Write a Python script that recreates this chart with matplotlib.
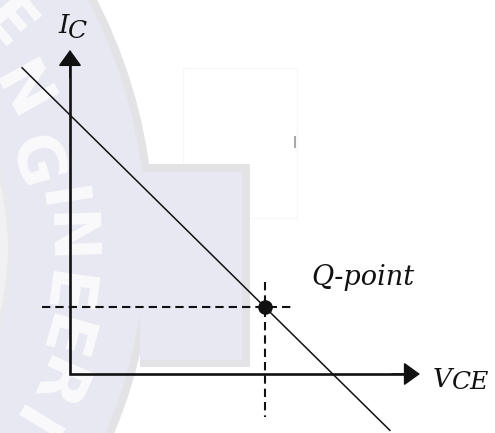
import numpy as np
import matplotlib
matplotlib.use("Agg")
import matplotlib.pyplot as plt
from matplotlib.patches import Circle, Rectangle

# ---------------- diagram data (arbitrary units) ----------------
vce_axis_len = 10.0          # length of V_CE axis
ic_axis_len = 9.26           # length of I_C axis
load_vce = [-1.37, 9.14]     # load line end points (V_CE)
load_ic = [8.75, -1.61]      # load line end points (I_C)
q_vce = 5.57                 # Q-point
q_ic = 1.92
h_dash_vce = [-0.80, 6.34]   # horizontal dashed guide extent
v_dash_ic = [2.63, -1.23]    # vertical dashed guide extent
q_label = "Q-point"
x_label = ("V", "CE")
y_label = ("I", "C")

# watermark letters (background decoration, pixel positions)
wm_letters = ["E", "N", "G", "I", "N", "E", "E", "R", "I"]
wm_rows = [25, 93, 163, 200, 238, 293, 337, 383, 422]
wm_cols = [6, 20, 33, 58, 66, 62, 60, 52, 28]

W, H, DPI = 495, 433, 100
fig = plt.figure(figsize=(W / DPI, H / DPI), dpi=DPI)
fig.patch.set_facecolor("white")

# ---------------- background watermark (pixel space) ----------------
bg = fig.add_axes([0, 0, 1, 1])
bg.set_xlim(0, W)
bg.set_ylim(H, 0)
bg.axis("off")
cx, cy = -360, 235
band = "#e3e3e6"
lav = "#e8e8f2"
bg.add_patch(Rectangle((183, 68), 114, 150, facecolor="white", edgecolor="#f7f7f7", lw=1))
bg.add_patch(Circle((cx, cy), 514, facecolor=band, edgecolor="none"))
bg.add_patch(Rectangle((140, 164), 110, 203, facecolor=band, edgecolor="none"))
bg.add_patch(Circle((cx, cy), 506, facecolor=lav, edgecolor="none"))
bg.add_patch(Rectangle((140, 172), 102, 188, facecolor=lav, edgecolor="none"))
tcx, tcy = -258, 248
bg.add_patch(Circle((tcx, tcy), 268, facecolor="#f1f1f4", edgecolor="#e9e9ec", lw=3))
bg.plot([295, 295], [137, 147], color="#a8a8a8", lw=1.5)

for ch, xc, yc in zip(wm_letters, wm_cols, wm_rows):
    phi = np.degrees(np.arctan2(tcy - yc, xc - tcx))
    bg.text(xc, yc, ch, fontsize=46, fontweight="bold", color="#fafafc",
            ha="center", va="center", rotation=phi - 90, rotation_mode="anchor",
            family="DejaVu Sans")

# ---------------- main diagram ----------------
ax = fig.add_axes([0, 0, 1, 1])
ax.patch.set_alpha(0)
px = 35.0  # pixels per unit
ox, oy = 70, 374
ax.set_xlim(-ox / px, (W - ox) / px)
ax.set_ylim((oy - H) / px, oy / px)
ax.axis("off")

k = "#111111"
# axes (L shape) + arrow heads
ax.plot([0, 0, vce_axis_len - 0.3], [ic_axis_len - 0.3, 0, 0], color=k, lw=1.9,
        solid_joinstyle="miter", solid_capstyle="butt")
aprops = dict(arrowstyle="-|>,head_length=1.0,head_width=0.72", lw=1.2, color=k,
              shrinkA=0, shrinkB=0, mutation_scale=10)
ax.annotate("", xy=(0, ic_axis_len), xytext=(0, ic_axis_len - 0.8), arrowprops=aprops)
ax.annotate("", xy=(vce_axis_len, 0), xytext=(vce_axis_len - 0.8, 0), arrowprops=aprops)

# load line
ax.plot(load_vce, load_ic, color=k, lw=1.1)
# dashed guides
ax.plot(h_dash_vce, [q_ic, q_ic], color=k, lw=1.5, ls=(0, (4, 2.4)))
ax.plot([q_vce, q_vce], v_dash_ic, color=k, lw=1.5, ls=(0, (4, 2.4)))
# Q point
ax.plot([q_vce], [q_ic], "o", color=k, ms=9.5)

tk = dict(family="DejaVu Serif", style="italic", color=k, va="baseline", ha="left")
ax.text(-12 / px, (oy - 33) / px, y_label[0], fontsize=19, **tk)
ax.text(-3 / px, (oy - 38) / px, y_label[1], fontsize=18, **tk)
ax.text((433 - ox) / px, (oy - 387) / px, x_label[0], fontsize=19, **tk)
ax.text((451 - ox) / px, (oy - 389) / px, x_label[1], fontsize=18, **tk)
ax.text((311 - ox) / px, (oy - 285) / px, q_label, fontsize=19.5, **tk)

fig.savefig("out.png", dpi=DPI)
